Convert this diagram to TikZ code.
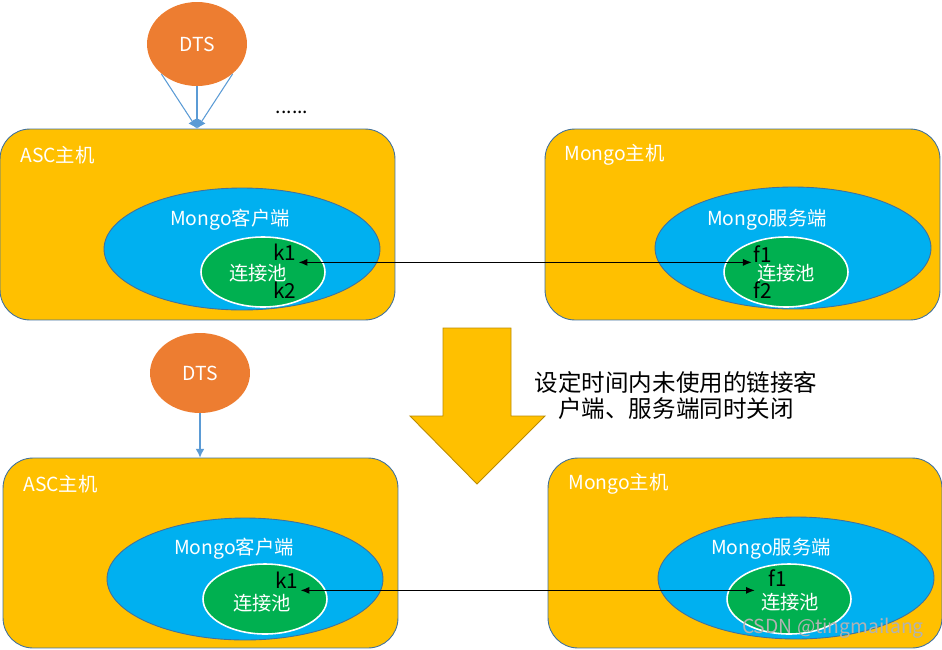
\documentclass[tikz,border=0pt]{standalone}
\usepackage{fontspec}
\setmainfont{Noto Sans CJK SC}
\definecolor{hostyellow}{HTML}{FFC000}
\definecolor{dtsorange}{HTML}{ED7D31}
\definecolor{mongoblue}{HTML}{00B0F0}
\definecolor{poolgreen}{HTML}{00B050}
\definecolor{edgeblue}{HTML}{41719C}
\definecolor{linkblue}{HTML}{5B9BD5}
\definecolor{arrowedge}{HTML}{BC8C00}
\usetikzlibrary{arrows.meta,positioning,shapes.geometric}

\begin{document}
\begin{tikzpicture}[x=0.02cm,y=-0.02cm,
  hostbox/.style={draw=edgeblue,fill=hostyellow,rounded corners=0.6cm,line width=0.5pt,
    minimum width=7.9cm,minimum height=3.82cm,inner sep=0},
  mongoell/.style={ellipse,draw=edgeblue,fill=mongoblue,line width=0.5pt,
    minimum width=5.52cm,minimum height=2.44cm,inner sep=0},
  poolell/.style={ellipse,draw=white,fill=poolgreen,line width=0.9pt,
    minimum width=2.48cm,minimum height=1.4cm,inner sep=0},
  dtsell/.style={ellipse,fill=dtsorange,minimum width=2.0cm,minimum height=1.68cm,
    inner sep=0,text=white,font=\fontsize{11}{12}\selectfont},
  hostlbl/.style={anchor=west,text=white,font=\fontsize{11}{12}\selectfont,inner sep=0},
  wlbl/.style={text=white,font=\fontsize{11}{12}\selectfont,inner sep=0},
  keylbl/.style={text=black,font=\fontsize{11.8}{12}\selectfont,inner sep=1pt},
  dtslink/.style={draw=linkblue,line width=0.6pt,-{Latex[length=5pt,width=5pt]}},
  poollink/.style={draw=black,line width=0.6pt,{Latex[length=5pt,width=4pt]}-{Latex[length=5pt,width=4pt]}}
]
  \useasboundingbox (0,0) rectangle (942,649);

  % ---- before: hosts with open connections
  \node[dtsell] (dts1) at (197,44) {DTS};
  \node[hostbox] (asc1) at (197.5,224.5) {};
  \node[hostbox] (mhost1) at (742.5,224.5) {};
  \node[hostlbl] (asclbl1) at (20,155) {ASC主机};
  \node[hostlbl] (mlbl1) at (564,155) {Mongo主机};
  \node (dots) at (292,112) [inner sep=0,font=\fontsize{11}{12}\selectfont] {......};
  % client side
  \node[mongoell] (client1) at (242,249) {};
  \node[wlbl] (clbl1) at (230,220) {Mongo客户端};
  \node[poolell] (cpool1) at (263,272) {};
  \node[wlbl] (cplbl1) at (258,273) {连接池};
  \node[keylbl] (k1) at (285,252) {k1};
  \node[keylbl] (k2) at (285,290) {k2};
  % server side
  \node[mongoell] (server1) at (793,248) {};
  \node[wlbl] (slbl1) at (767,220) {Mongo服务端};
  \node[poolell] (spool1) at (786,272) {};
  \node[wlbl] (splbl1) at (786,273) {连接池};
  \node[keylbl] (f1) at (763,254) {f1};
  \node[keylbl] (f2) at (763,290) {f2};
  % links
  \coordinate (dtstip1) at (dts1.south |- asc1.north);
  \draw[dtslink] (dts1.south west) -- (dtstip1);
  \draw[dtslink] (dts1.south) -- (dtstip1);
  \draw[dtslink] (dts1.south east) -- (dtstip1);
  \draw[poollink] (k1.south east) -- (k1.south east -| f1.west);

  % ---- transition
  \fill[hostyellow,draw=arrowedge,line width=0.5pt] (443,328) -- (511,328) -- (511,416)
    -- (545,416) -- (477,484) -- (410,416) -- (443,416) -- cycle;
  \node[align=center,font=\fontsize{13.4}{14.8}\selectfont] (note) at (676,396)
    {设定时间内未使用的链接客\\户端、服务端同时关闭};

  % ---- after: only k1/f1 remain
  \node[dtsell,minimum height=1.6cm] (dts2) at (200,373) {DTS};
  \node[hostbox,minimum height=3.8cm] (asc2) at (200.5,553) {};
  \node[hostbox,minimum height=3.8cm,minimum width=7.88cm] (mhost2) at (745,553) {};
  \node[hostlbl] (asclbl2) at (23,484) {ASC主机};
  \node[hostlbl] (mlbl2) at (568,484) {Mongo主机};
  % client side
  \node[mongoell] (client2) at (245,579) {};
  \node[wlbl] (clbl2) at (234,549) {Mongo客户端};
  \node[poolell] (cpool2) at (265,599) {};
  \node[wlbl] (cplbl2) at (262,603) {连接池};
  \node[keylbl] (k1b) at (287,580) {k1};
  % server side
  \node[mongoell] (server2) at (796,578) {};
  \node[wlbl] (slbl2) at (771,549) {Mongo服务端};
  \node[poolell] (spool2) at (789,599) {};
  \node[wlbl] (splbl2) at (790,602) {连接池};
  \node[keylbl] (f1b) at (778,578) {f1};
  % links
  \draw[dtslink] (dts2.south) -- (dts2.south |- asc2.north);
  \coordinate (f1bin) at ([xshift=-0.24cm]f1b.south west);
  \draw[poollink] (k1b.south east) -- (k1b.south east -| f1bin);

  \node[anchor=east,text=gray!60,font=\fontsize{11}{12}\selectfont] (mark)
    at (930,628) {CSDN @tingmailang};
\end{tikzpicture}
\end{document}
